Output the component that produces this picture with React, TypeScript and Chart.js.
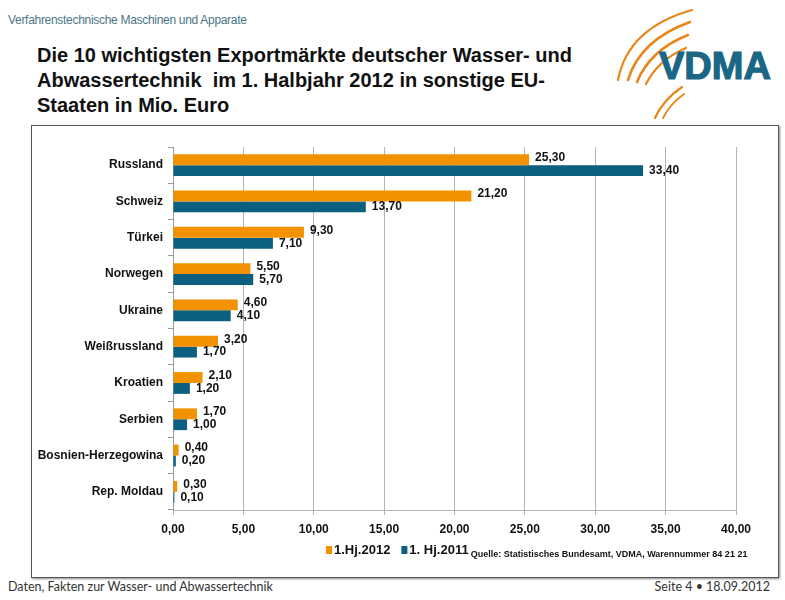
import React, { useEffect, useRef } from "react";
import { Chart, registerables } from "chart.js";

Chart.register(...registerables);

const categories = [
  "Russland",
  "Schweiz",
  "Türkei",
  "Norwegen",
  "Ukraine",
  "Weißrussland",
  "Kroatien",
  "Serbien",
  "Bosnien-Herzegowina",
  "Rep. Moldau",
];
const values2012 = [25.3, 21.2, 9.3, 5.5, 4.6, 3.2, 2.1, 1.7, 0.4, 0.3];
const values2011 = [33.4, 13.7, 7.1, 5.7, 4.1, 1.7, 1.2, 1.0, 0.2, 0.1];
const seriesLabels = ["1.Hj.2012", "1. Hj.2011"];
const sourceText = "Quelle: Statistisches Bundesamt, VDMA, Warennummer 84 21 21";

const ORANGE = "#f39200";
const TEAL = "#0d5f80";
const FONT = "'Liberation Sans', Arial, sans-serif";

const fmt = (v: number) => v.toFixed(2).replace(".", ",");

const labelPlugin = {
  id: "valueLabels",
  afterDatasetsDraw(chart: any) {
    const ctx = chart.ctx;
    ctx.save();
    ctx.font = `bold 12px ${FONT}`;
    ctx.fillStyle = "#111";
    ctx.textAlign = "left";
    ctx.textBaseline = "middle";
    chart.data.datasets.forEach((ds: any, di: number) => {
      const meta = chart.getDatasetMeta(di);
      meta.data.forEach((el: any, i: number) => {
        const dy = di === 0 ? -2 : 0;
        ctx.fillText(fmt(ds.data[i]), el.x + 6, el.y + dy);
      });
    });
    ctx.restore();
  },
};

const legendPlugin = {
  id: "customLegend",
  afterDraw(chart: any) {
    const ctx = chart.ctx;
    ctx.save();
    const y = 424;
    let x = 294;
    ctx.textBaseline = "middle";
    ctx.textAlign = "left";
    chart.data.datasets.forEach((ds: any, i: number) => {
      ctx.fillStyle = ds.backgroundColor;
      ctx.fillRect(x, y - 4, 6, 8);
      ctx.font = `bold 13px ${FONT}`;
      ctx.fillStyle = "#111";
      ctx.fillText(ds.label, x + 8, y);
      x += 8 + ctx.measureText(ds.label).width + (i === 0 ? 11 : 2);
    });
    ctx.font = `bold 9px ${FONT}`;
    ctx.fillText(sourceText, x, y + 5);
    ctx.restore();
  },
};

function ChartBox() {
  const ref = useRef<HTMLCanvasElement>(null);
  useEffect(() => {
    if (!ref.current) return;
    const chart = new Chart(ref.current, {
      type: "bar",
      data: {
        labels: categories,
        datasets: [
          { label: seriesLabels[0], data: values2012, backgroundColor: ORANGE, categoryPercentage: 0.6, barPercentage: 1.0 },
          { label: seriesLabels[1], data: values2011, backgroundColor: TEAL, categoryPercentage: 0.6, barPercentage: 1.0 },
        ],
      },
      options: {
        indexAxis: "y",
        animation: false,
        responsive: false,
        maintainAspectRatio: false,
        layout: { padding: { left: 0, right: 42, top: 21, bottom: 37 } },
        plugins: { legend: { display: false }, tooltip: { enabled: false } },
        scales: {
          x: {
            min: 0,
            max: 40,
            ticks: {
              stepSize: 5,
              padding: 7,
              color: "#111",
              font: { family: FONT, size: 12, weight: "bold" },
              callback: (v: any) => fmt(Number(v)),
            },
            grid: { color: "#b4b4b4", tickLength: 5, tickColor: "#b4b4b4" },
            border: { color: "#b4b4b4" },
            afterFit: (s: any) => { s.height = 30; },
          },
          y: {
            ticks: {
              padding: 5,
              color: "#111",
              font: { family: FONT, size: 12, weight: "bold" },
            },
            grid: { offset: true, drawOnChartArea: false, tickLength: 5, color: "#9a9a9a" },
            border: { color: "#9a9a9a" },
            afterFit: (s: any) => { s.width = 141; },
          },
        },
      },
      plugins: [labelPlugin, legendPlugin],
    });
    return () => chart.destroy();
  }, []);
  return <canvas ref={ref} width={746} height={451} style={{ display: "block" }} />;
}

function Logo() {
  return (
    <svg width={200} height={125} style={{ position: "absolute", left: 585, top: 0 }} viewBox="585 0 200 125">
      <g fill="none" stroke="#e8861a" strokeLinecap="round">
        <path d="M 618 80 Q 628 28 692 10" strokeWidth={2.2} />
        <path d="M 628 80 Q 640 40 690 22" strokeWidth={2.6} />
        <path d="M 637 82 Q 650 50 688 35" strokeWidth={2.6} />
        <path d="M 646 84 Q 658 60 686 48" strokeWidth={2.2} />
        <path d="M 655 118 Q 663 100 682 87" strokeWidth={2.2} />
        <path d="M 663 118 Q 670 104 684 94" strokeWidth={1.8} />
      </g>
      <text x={659} y={79} fill="#1a6785" stroke="#1a6785" strokeWidth={1.2} fontFamily={FONT} fontWeight="bold" fontSize={38} textLength={112} lengthAdjust="spacingAndGlyphs">VDMA</text>
    </svg>
  );
}

export default function App() {
  return (
    <div style={{ position: "fixed", left: 0, top: 0, width: 785, height: 600, background: "#fff", overflow: "hidden" }}>
      <div style={{ position: "absolute", left: 8, top: 13, fontFamily: FONT, fontSize: 12, color: "#4a7686", letterSpacing: -0.3 }}>
        Verfahrenstechnische Maschinen und Apparate
      </div>
      <div style={{ position: "absolute", left: 37, top: 43, fontFamily: FONT, fontWeight: "bold", fontSize: 20, lineHeight: "25px", color: "#111", whiteSpace: "pre" }}>
        {"Die 10 wichtigsten Exportmärkte deutscher Wasser- und\nAbwassertechnik  im 1. Halbjahr 2012 in sonstige EU-\nStaaten in Mio. Euro"}
      </div>
      <Logo />
      <div style={{ position: "absolute", left: 31, top: 125, width: 746, height: 451, border: "1px solid #555", boxShadow: "1px 1px 2px #888" }}>
        <ChartBox />
      </div>
      <div style={{ position: "absolute", left: 8, top: 579, fontFamily: "Lato, sans-serif", fontSize: 12.5, color: "#333" }}>
        Daten, Fakten zur Wasser- und Abwassertechnik
      </div>
      <div style={{ position: "absolute", right: 15, top: 579, fontFamily: "Lato, sans-serif", fontSize: 12.5, color: "#333" }}>
        Seite 4 • 18.09.2012
      </div>
    </div>
  );
}
